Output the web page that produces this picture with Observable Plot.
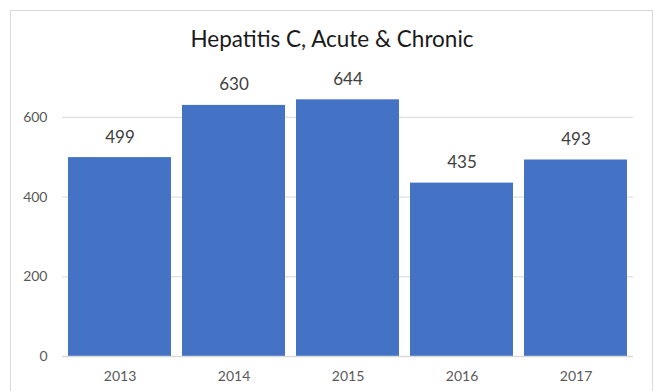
<!DOCTYPE html>
<html>
<head>
<meta charset="utf-8">
<script src="https://cdn.jsdelivr.net/npm/d3@7"></script>
<script src="https://cdn.jsdelivr.net/npm/@observablehq/plot@0.6"></script>
<style>
  html, body { margin: 0; padding: 0; background: #fff; overflow: hidden; }
  #wrap { position: relative; width: 654px; height: 391px; font-family: Lato, "Liberation Sans", sans-serif; }
  #frame { position: absolute; left: 10px; top: 10px; width: 643px; height: 400px; border: 1px solid #d9d9d9; box-sizing: border-box; }
  #title { position: absolute; left: 0; width: 664px; top: 26px; text-align: center; font-size: 22.5px; color: #1a1a1a; line-height: 26px; }
  #chart { position: absolute; left: 0; top: 0; }
</style>
</head>
<body>
<div id="wrap">
  <div id="frame"></div>
  <div id="chart"></div>
  <div id="title">Hepatitis C, Acute &amp; Chronic</div>
</div>
<script>
const years = ["2013", "2014", "2015", "2016", "2017"];
const cases = [499, 630, 644, 435, 493];
const yTicks = [0, 200, 400, 600];

const data = years.map((y, i) => ({year: y, value: cases[i]}));

const chart = Plot.plot({
  width: 654,
  height: 391,
  marginLeft: 62,
  marginRight: 21,
  marginTop: 77,
  marginBottom: 35,
  style: {fontFamily: "Lato, 'Liberation Sans', sans-serif", background: "transparent"},
  x: {domain: years, paddingInner: 0.093, paddingOuter: 0.046, label: null},
  y: {domain: [0, 700], label: null},
  marks: [
    Plot.gridY(yTicks.filter(d => d > 0), {stroke: "#d9d9d9", strokeOpacity: 1}),
    Plot.barY(data, {x: "year", y: "value", fill: "#4472c4"}),
    Plot.ruleY([0], {stroke: "#d9d9d9", strokeWidth: 1.3}),
    Plot.text(data, {x: "year", y: "value", text: d => String(d.value), dy: -15, lineAnchor: "bottom", fontSize: 17, fill: "#404040"}),
    Plot.axisY(yTicks, {tickSize: 0, tickPadding: 15, fontSize: 14, fill: "#595959"}),
    Plot.axisX({tickSize: 0, tickPadding: 15, fontSize: 14, fill: "#595959"})
  ]
});
document.getElementById("chart").appendChild(chart);
</script>
</body>
</html>
